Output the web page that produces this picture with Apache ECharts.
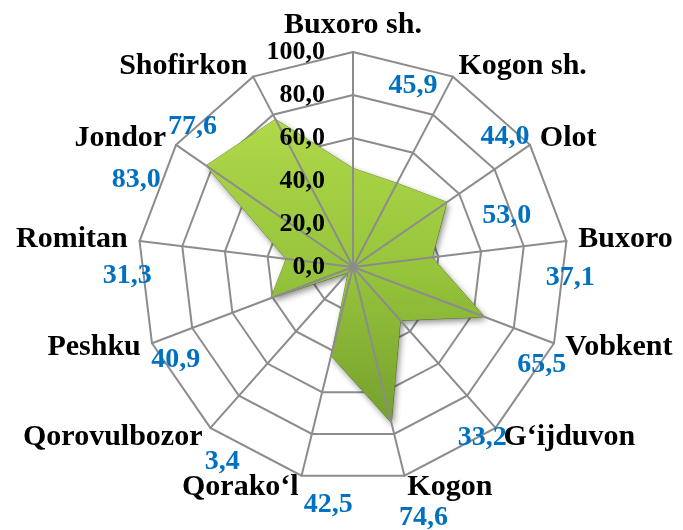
<!DOCTYPE html>
<html>
<head>
<meta charset="utf-8">
<script src="https://cdn.jsdelivr.net/npm/echarts@6/dist/echarts.min.js"></script>
<style>
  html, body { margin: 0; padding: 0; background: #fff; }
  #chart { width: 683px; height: 530px; }
</style>
</head>
<body>
<div id="chart"></div>
<script>
const districts = ['Buxoro sh.', 'Kogon sh.', 'Olot', 'Buxoro', 'Vobkent', 'G‘ijduvon', 'Kogon',
  'Qorako‘l', 'Qorovulbozor', 'Peshku', 'Romitan', 'Jondor', 'Shofirkon'];
const values = [45.9, 44.0, 53.0, 37.1, 65.5, 33.2, 74.6, 42.5, 3.4, 40.9, 31.3, 83.0, 77.6];
const axisMax = 100;
const axisSplits = 5;

// where each value label sits, relative to its own vertex (px)
const labelOffsets = [[60, -83], [108, -46], [60, 13], [138, 20], [57, 48], [82, 117], [32, 95],
  [-3, 149], [-126, 189], [-95, 62], [-159, 17], [-70, 14], [-83, 7]];

const fmt = v => Number(v).toFixed(1).replace('.', ',');
const serif = 'Liberation Serif';
const gridColor = '#8c8c8c';

// echarts lays radar axes counter-clockwise; the original runs clockwise from the top
const order = districts.map((d, i) => i === 0 ? 0 : districts.length - i);
const axisNames = order.map(i => districts[i]);
const axisValues = order.map(i => values[i]);

const chart = echarts.init(document.getElementById('chart'));

const baseRadar = {
  center: [353, 267],
  radius: 215,
  startAngle: 90,
  shape: 'polygon',
  splitNumber: axisSplits,
  splitArea: { show: false }
};

const option = {
  animation: false,
  backgroundColor: '#fff',
  radar: [
    {
      ...baseRadar,
      z: 1,
      indicator: axisNames.map(name => ({ name, min: 0, max: axisMax })),
      nameGap: 12,
      axisName: { color: '#000', fontFamily: serif, fontWeight: 'bold', fontSize: 30 },
      axisLine: { show: false },
      splitLine: { lineStyle: { color: gridColor, width: 2 } },
      axisLabel: { show: false }
    },
    {
      ...baseRadar,
      z: 3,
      indicator: axisNames.map((name, i) => i === 0
        ? { name: '', min: 0, max: axisMax,
            axisLabel: { show: true, margin: 28, color: '#000', fontFamily: serif,
              fontWeight: 'bold', fontSize: 26, formatter: v => fmt(v) } }
        : { name: '', min: 0, max: axisMax }),
      axisName: { show: false },
      axisLine: { show: true, lineStyle: { color: gridColor, width: 2 } },
      splitLine: { show: false },
      axisTick: { show: false },
      axisLabel: { show: false }
    }
  ],
  series: [
    {
      type: 'radar',
      radarIndex: 0,
      z: 2,
      symbol: 'none',
      lineStyle: { width: 1, color: '#7aa233' },
      areaStyle: {
        opacity: 1,
        color: new echarts.graphic.LinearGradient(0, 0, 0, 1, [
          { offset: 0, color: '#b0d84a' },
          { offset: 0.5, color: '#96c43b' },
          { offset: 1, color: '#75a02e' }
        ]),
        shadowBlur: 6,
        shadowColor: 'rgba(0,0,0,0.45)',
        shadowOffsetX: 2,
        shadowOffsetY: 3
      },
      data: [{ value: axisValues, name: 'values' }]
    },
    {
      type: 'radar',
      radarIndex: 1,
      z: 4,
      symbol: 'circle',
      symbolSize: 1,
      itemStyle: { color: 'rgba(0,0,0,0)' },
      lineStyle: { width: 0, opacity: 0 },
      silent: true,
      data: values.map((v, i) => {
        const dim = order.indexOf(i);
        return {
          value: axisValues,
          label: {
            show: true,
            position: 'inside',
            offset: labelOffsets[i],
            color: '#0070c0',
            fontFamily: serif,
            fontWeight: 'bold',
            fontSize: 28,
            formatter: p => p.dimensionIndex === dim ? fmt(p.value) : ''
          }
        };
      })
    }
  ]
};

chart.setOption(option);
</script>
</body>
</html>
